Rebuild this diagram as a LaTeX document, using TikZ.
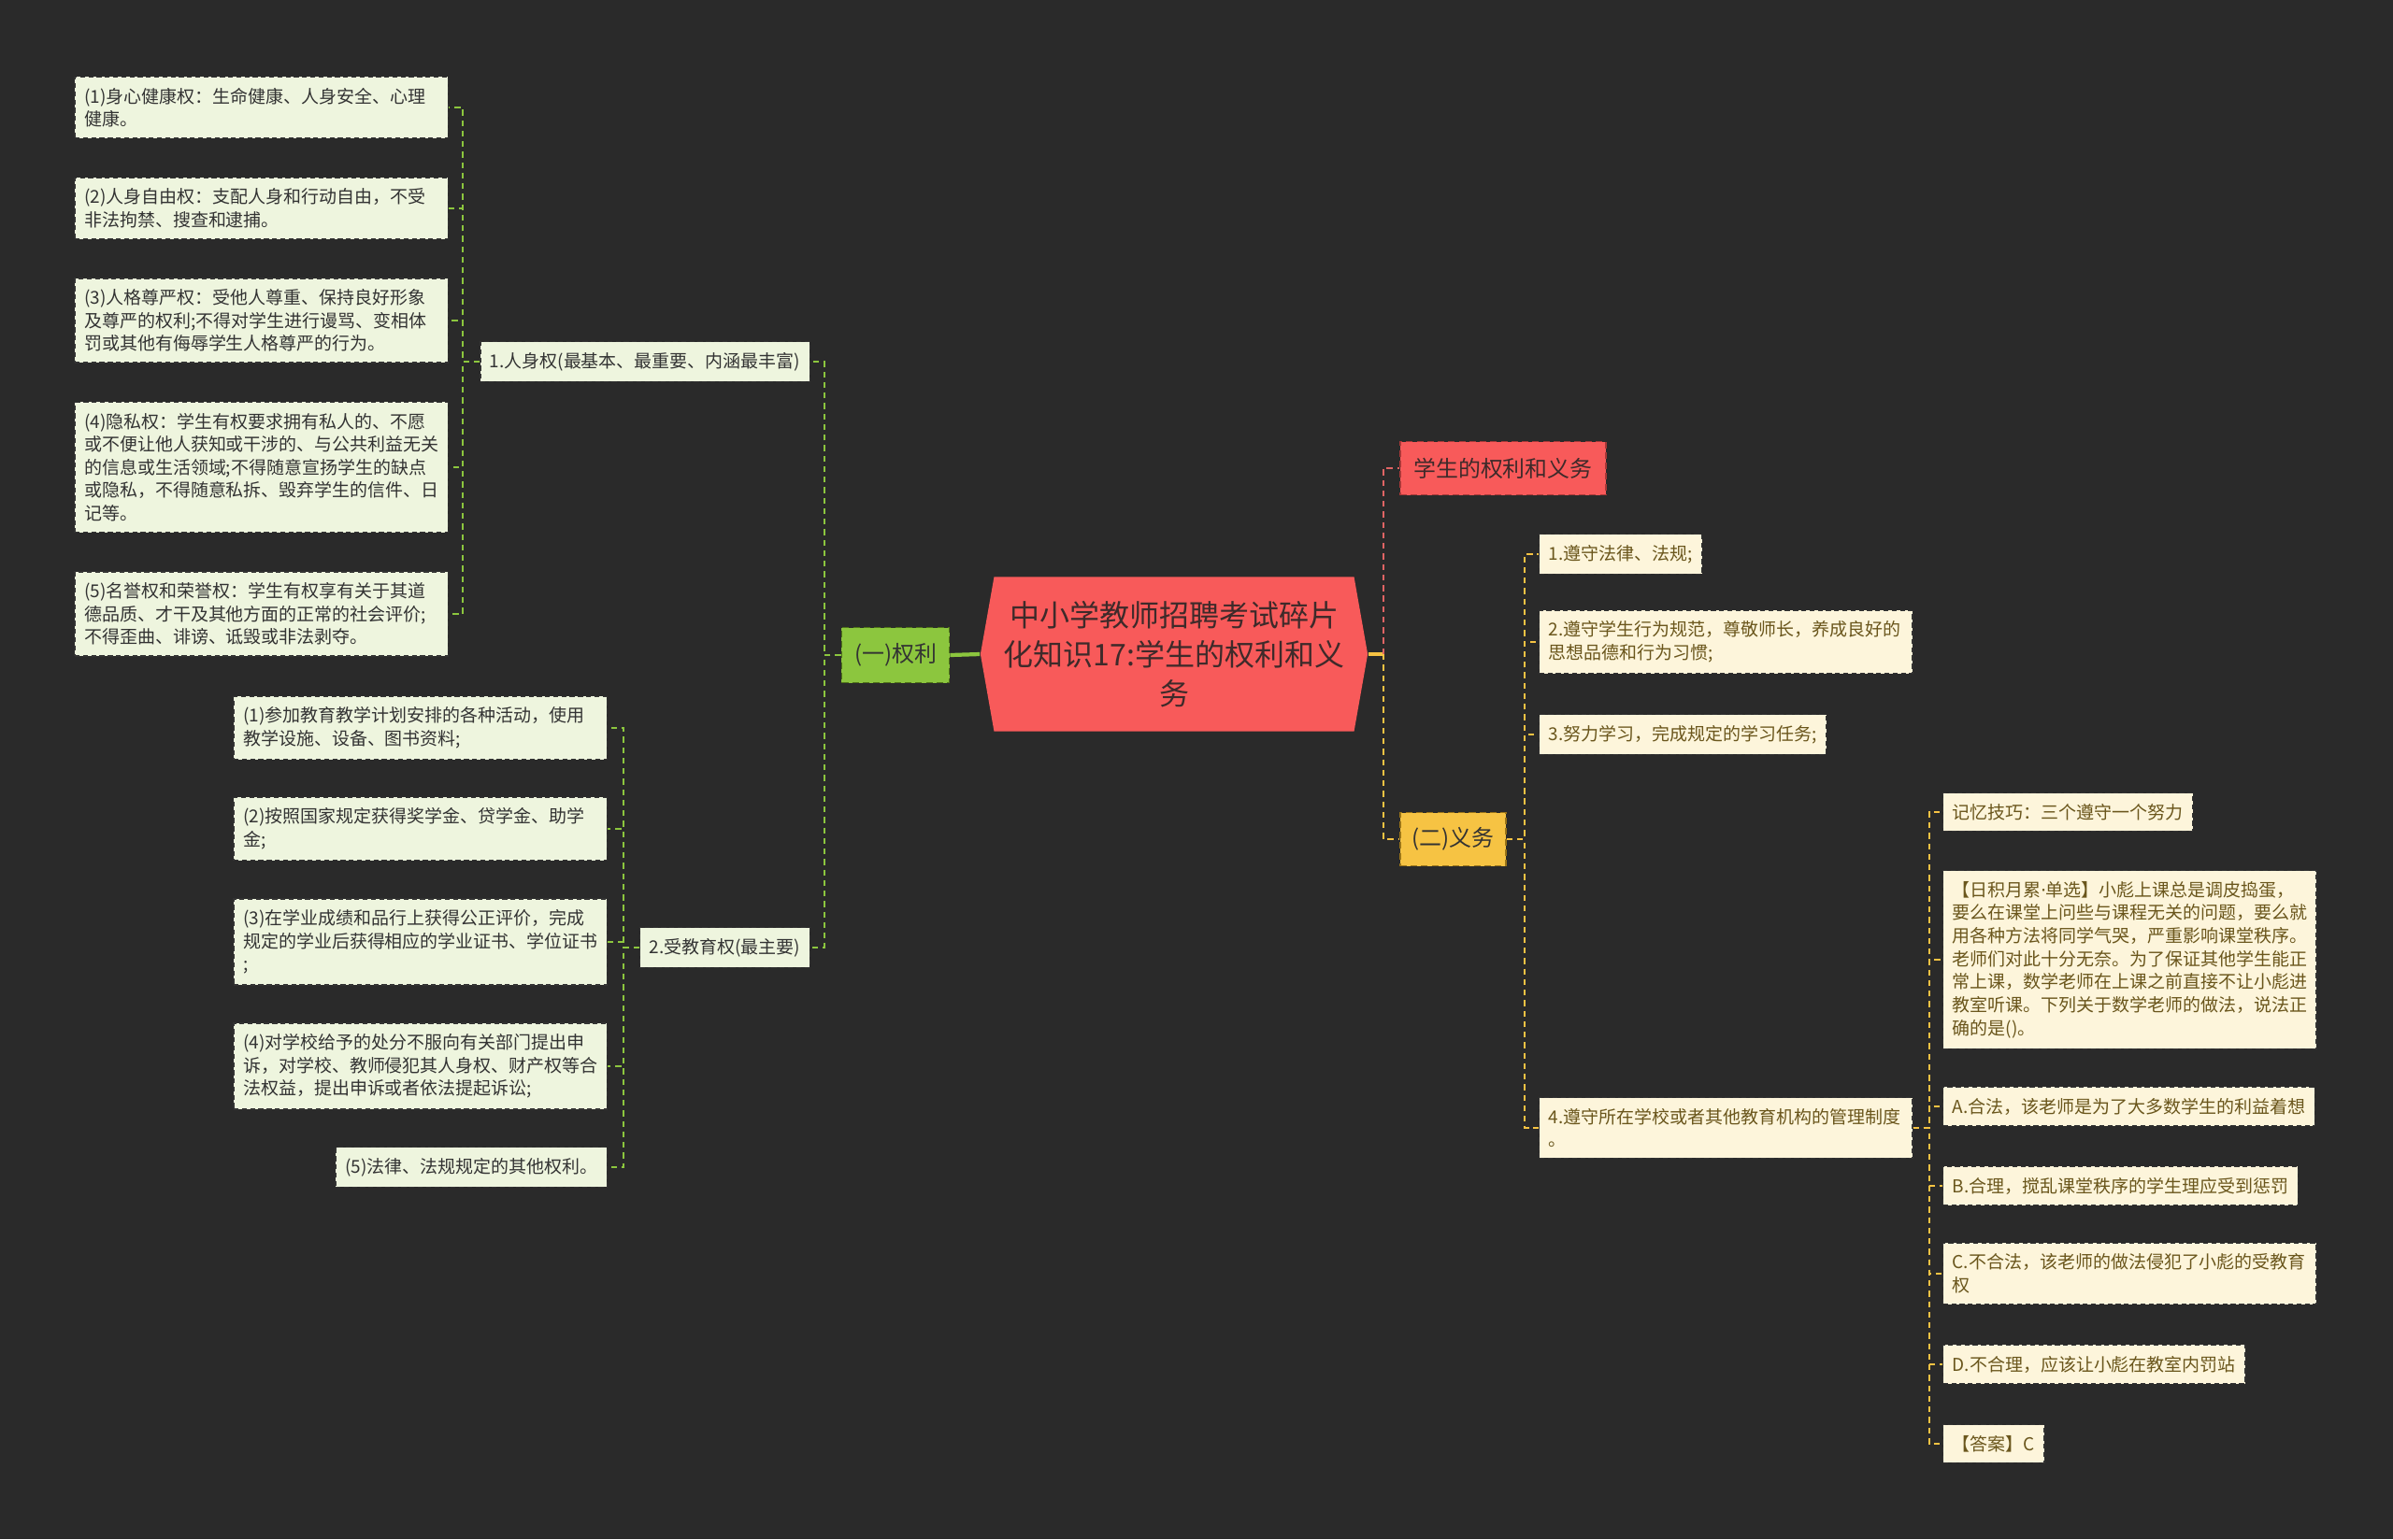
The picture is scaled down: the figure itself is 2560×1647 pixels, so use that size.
\documentclass[tikz,border=0pt]{standalone}
\usepackage{fontspec}
\setmainfont{Noto Sans CJK SC}
\newfontfamily\latinfont{Noto Sans}
\definecolor{mBg}{HTML}{2A2A2A}
\definecolor{mRootRed}{HTML}{F85A5A}
\definecolor{mDarkRed}{HTML}{A83838}
\definecolor{mLineRed}{HTML}{E06464}
\definecolor{mLime}{HTML}{8CC63E}
\definecolor{mLimeDark}{HTML}{4F7418}
\definecolor{mPaleGreen}{HTML}{EEF5DE}
\definecolor{mGold}{HTML}{F6C343}
\definecolor{mGoldDark}{HTML}{9A7418}
\definecolor{mPaleCream}{HTML}{FDF5DB}
\definecolor{mInk}{HTML}{333333}
\definecolor{mBrownInk}{HTML}{6A561C}
\definecolor{mRootInk}{HTML}{3E2A2A}
\usepackage{tikz}
\usetikzlibrary{shapes.symbols}

\begin{document}
\begin{tikzpicture}[x=0.01cm, y=-0.01cm,
  leaf/.style={draw=mInk, line width=0.4pt, dash pattern=on 1.5pt off 1pt, inner xsep=0.1cm, inner ysep=0.115cm, align=left, font=\fontsize{5.4}{7}\selectfont},
  gleaf/.style={leaf, fill=mPaleGreen, text=mInk},
  yleaf/.style={leaf, fill=mPaleCream, text=mBrownInk},
  widebox/.style={text width=3.79cm},
  topic/.style={line width=0.5pt, dash pattern=on 2pt off 1.2pt, inner sep=0pt, minimum height=0.57cm, font=\fontsize{6.8}{8.5}\selectfont},
  glink/.style={draw=mLime, line width=0.6pt, dash pattern=on 1.8pt off 1.4pt},
  ylink/.style={draw=mGold, line width=0.6pt, dash pattern=on 1.8pt off 1.4pt},
  rlink/.style={draw=mLineRed, line width=0.6pt, dash pattern=on 1.8pt off 1.4pt}]
\useasboundingbox (0,0) rectangle (2560,1647);
\fill[mBg] (0,0) rectangle (2560,1647);

% centre
\node[shape=signal, signal to=east and west, signal pointer angle=160, fill=mRootRed, text=mRootInk, align=center, font=\fontsize{9.1}{12}\selectfont, minimum width=4.14cm, minimum height=1.65cm, inner sep=0pt] (root) at (1256,700) {中小学教师招聘考试碎片\\化知识17:学生的权利和义\\务};

% left: rights
\node[topic, draw=mLimeDark, fill=mLime, text=mInk, minimum width=1.15cm, minimum height=0.59cm] (g1) at (958,701) {(一)权利};
\node[gleaf, anchor=east] (p1) at (867,387) {1.人身权(最基本、最重要、内涵最丰富)};
\node[gleaf, anchor=east] (p2) at (867,1014) {2.受教育权(最主要)};

\node[gleaf, widebox, anchor=east] (l1) at (480,115) {(1)身心健康权：生命健康、人身安全、心理\\健康。};
\node[gleaf, widebox, anchor=east] (l2) at (480,223) {(2)人身自由权：支配人身和行动自由，不受\\非法拘禁、搜查和逮捕。};
\node[gleaf, widebox, anchor=east] (l3) at (480,343) {(3)人格尊严权：受他人尊重、保持良好形象\\及尊严的权利;不得对学生进行谩骂、变相体\\罚或其他有侮辱学生人格尊严的行为。};
\node[gleaf, widebox, anchor=east] (l4) at (480,500) {(4)隐私权：学生有权要求拥有私人的、不愿\\或不便让他人获知或干涉的、与公共利益无关\\的信息或生活领域;不得随意宣扬学生的缺点\\或隐私，不得随意私拆、毁弃学生的信件、日\\记等。};
\node[gleaf, widebox, anchor=east] (l5) at (480,657) {(5)名誉权和荣誉权：学生有权享有关于其道\\德品质、才干及其他方面的正常的社会评价;\\不得歪曲、诽谤、诋毁或非法剥夺。};

\node[gleaf, widebox, anchor=east] (r1) at (650,779) {(1)参加教育教学计划安排的各种活动，使用\\教学设施、设备、图书资料;};
\node[gleaf, widebox, anchor=east] (r2) at (650,887) {(2)按照国家规定获得奖学金、贷学金、助学\\金;};
\node[gleaf, widebox, anchor=east] (r3) at (650,1008) {(3)在学业成绩和品行上获得公正评价，完成\\规定的学业后获得相应的学业证书、学位证书\\;};
\node[gleaf, widebox, anchor=east] (r4) at (650,1141) {(4)对学校给予的处分不服向有关部门提出申\\诉，对学校、教师侵犯其人身权、财产权等合\\法权益，提出申诉或者依法提起诉讼;};
\node[gleaf, anchor=east] (r5) at (650,1249) {(5)法律、法规规定的其他权利。};

% right: title and duties
\node[topic, draw=mDarkRed, fill=mRootRed, text=mRootInk, minimum width=2.2cm, anchor=west] (rd) at (1497,501) {学生的权利和义务};
\node[topic, draw=mGoldDark, fill=mGold, text=mInk, minimum width=1.13cm, anchor=west] (yw) at (1497,898) {(二)义务};

\node[yleaf, anchor=west] (d1) at (1646,593) {1.遵守法律、法规;};
\node[yleaf, widebox, anchor=west] (d2) at (1646,687) {2.遵守学生行为规范，尊敬师长，养成良好的\\思想品德和行为习惯;};
\node[yleaf, anchor=west] (d3) at (1646,786) {3.努力学习，完成规定的学习任务;};
\node[yleaf, widebox, anchor=west] (d4) at (1646,1207) {4.遵守所在学校或者其他教育机构的管理制度\\。};

\node[yleaf, anchor=west] (e1) at (2078,869) {记忆技巧：三个遵守一个努力};
\node[yleaf, widebox, anchor=west] (e2) at (2078,1027) {【日积月累{\latinfont ·}单选】小彪上课总是调皮捣蛋，\\要么在课堂上问些与课程无关的问题，要么就\\用各种方法将同学气哭，严重影响课堂秩序。\\老师们对此十分无奈。为了保证其他学生能正\\常上课，数学老师在上课之前直接不让小彪进\\教室听课。下列关于数学老师的做法，说法正\\确的是()。};
\node[yleaf, anchor=west] (e3) at (2078,1184) {A.合法，该老师是为了大多数学生的利益着想};
\node[yleaf, anchor=west] (e4) at (2078,1269) {B.合理，搅乱课堂秩序的学生理应受到惩罚};
\node[yleaf, widebox, anchor=west] (e5) at (2078,1363) {C.不合法，该老师的做法侵犯了小彪的受教育\\权};
\node[yleaf, anchor=west] (e6) at (2078,1460) {D.不合理，应该让小彪在教室内罚站};
\node[yleaf, anchor=west] (e7) at (2078,1545) {【答案】C};

% links, left
\draw[mLime, line width=1.2pt] (root.west) -- (g1.east);
\draw[glink] (g1.west) -- ++(-18,0) |- (p1.east);
\draw[glink] (g1.west) -- ++(-18,0) |- (p2.east);
\foreach \n in {l1,l2,l3,l4,l5} \draw[glink] (p1.west) -- ++(-18,0) |- (\n.east);
\foreach \n in {r1,r2,r3,r4,r5} \draw[glink] (p2.west) -- ++(-17,0) |- (\n.east);

% links, right
\draw[mGold, line width=1.2pt] (root.east) -- ++(16,0) coordinate (rj);
\draw[rlink] (rj) |- (rd.west);
\draw[ylink] (rj) |- (yw.west);
\foreach \n in {d1,d2,d3,d4} \draw[ylink] (yw.east) -- ++(19,0) |- (\n.west);
\foreach \n in {e1,e2,e3,e4,e5,e6,e7} \draw[ylink] (d4.east) -- ++(17,0) |- (\n.west);
\end{tikzpicture}
\end{document}
